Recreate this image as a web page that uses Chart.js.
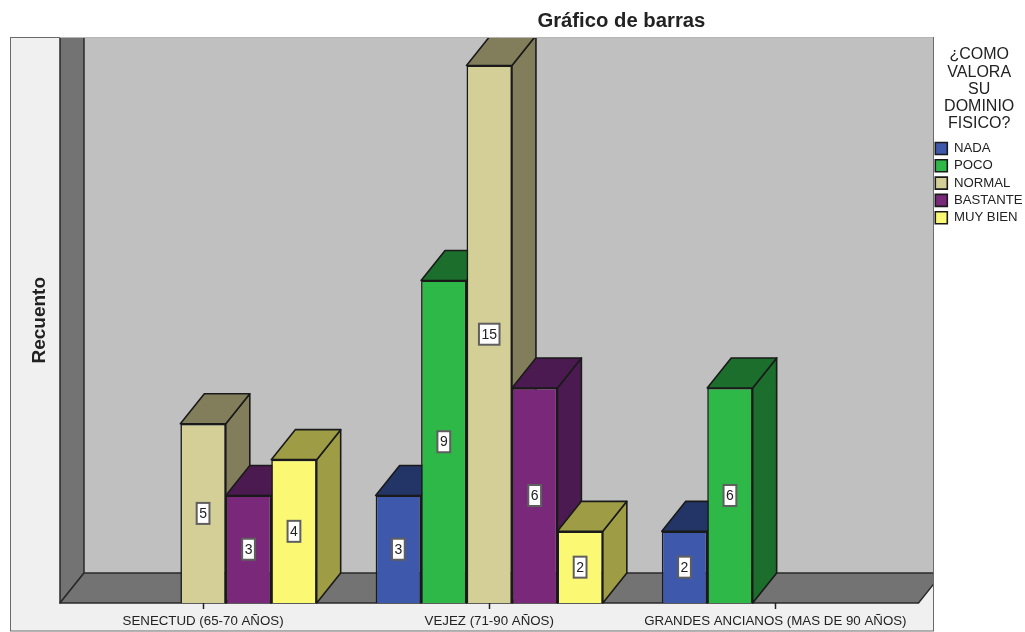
<!DOCTYPE html>
<html><head><meta charset="utf-8">
<style>html,body{margin:0;padding:0;background:#fff}canvas{display:block}</style>
<script src="https://cdn.jsdelivr.net/npm/chart.js@4"></script></head>
<body><canvas id="c" width="1025" height="632"></canvas>
<script>
const categories = ['SENECTUD (65-70 AÑOS)', 'VEJEZ (71-90 AÑOS)', 'GRANDES ANCIANOS (MAS DE 90 AÑOS)'];
const seriesNames = ['NADA', 'POCO', 'NORMAL', 'BASTANTE', 'MUY BIEN'];
const nada = [null, 3, 2];
const poco = [null, 9, 6];
const normal = [5, 15, null];
const bastante = [3, 6, null];
const muyBien = [4, 2, null];
const seriesValues = [nada, poco, normal, bastante, muyBien];
const seriesColors = ['#3E58AC', '#2EB848', '#D4CE97', '#7A297A', '#FBF873'];
const sideColors = ['#233466', '#1B6E2B', '#827E5C', '#4A1A50', '#9E9D45'];
const legendTitle = ['¿COMO', 'VALORA', 'SU', 'DOMINIO', 'FISICO?'];
const FONT = '"Liberation Sans", Arial, sans-serif';
const DX = 24, DY = 30, BOX = {l: 10, r: 933, t: 37, b: 631};
const INK = '#222222';

function poly(ctx, pts, fill, stroke, lw) {
  ctx.beginPath();
  pts.forEach((p, i) => i ? ctx.lineTo(p[0], p[1]) : ctx.moveTo(p[0], p[1]));
  ctx.closePath();
  if (fill) { ctx.fillStyle = fill; ctx.fill(); }
  if (stroke) { ctx.strokeStyle = stroke; ctx.lineWidth = lw; ctx.lineJoin = 'round'; ctx.stroke(); }
}

const scene = {
  id: 'scene',
  afterLayout(chart) {
    const t = chart.titleBlock;
    t.left += 106.5; t.right += 106.5;
    const lg = chart.legend;
    lg.left = 931.2; lg.width = 96; lg.right = lg.left + 96;
    lg.top = 37; lg.bottom = 632; lg.height = 595;
  },
  beforeDraw(chart) {
    const ctx = chart.ctx, a = chart.chartArea;
    ctx.save();
    ctx.fillStyle = '#fff'; ctx.fillRect(0, 0, 1025, 632);
    ctx.fillStyle = '#F0F0F0'; ctx.fillRect(BOX.l, BOX.t, BOX.r - BOX.l, BOX.b - BOX.t);
    ctx.beginPath(); ctx.rect(BOX.l, BOX.t, BOX.r - BOX.l, BOX.b - BOX.t); ctx.clip();
    const B = a.bottom, L = a.left, R = a.right;
    ctx.fillStyle = '#C0C0C0'; ctx.fillRect(L + DX, BOX.t, BOX.r - L - DX, B - DY - BOX.t);
    poly(ctx, [[L, BOX.t], [L + DX, BOX.t], [L + DX, B - DY], [L, B]], '#737373', '#2a2a2a', 1.5);
    poly(ctx, [[L, B], [L + DX, B - DY], [R + DX, B - DY], [R, B]], '#737373', '#2a2a2a', 1.5);
    ctx.restore();
    ctx.save();
    ctx.strokeStyle = '#6a6a6a'; ctx.lineWidth = 1;
    ctx.strokeRect(BOX.l + .5, BOX.t + .5, BOX.r - BOX.l, BOX.b - BOX.t - .5);
    ctx.strokeStyle = '#b5b5b5'; ctx.beginPath(); ctx.moveTo(L, BOX.t + .5); ctx.lineTo(BOX.r, BOX.t + .5); ctx.stroke();
    ctx.restore();
  },
  beforeDatasetsDraw(chart) {
    const ctx = chart.ctx;
    const bars = [];
    chart.data.datasets.forEach((d, i) => chart.getDatasetMeta(i).data.forEach((el, j) => {
      if (d.data[j] !== null) bars.push({el, i});
    }));
    bars.sort((p, q) => p.el.x - q.el.x);
    ctx.save();
    ctx.beginPath(); ctx.rect(BOX.l, BOX.t + 1, BOX.r - BOX.l, BOX.b - BOX.t); ctx.clip();
    bars.forEach(({el, i}) => {
      const l = el.x - el.width / 2, r = el.x + el.width / 2, t = el.y, b = el.base;
      poly(ctx, [[r, t], [r + DX, t - DY], [r + DX, b - DY], [r, b]], sideColors[i], '#1a1a1a', 1.6);
      poly(ctx, [[l, t], [r, t], [r + DX, t - DY], [l + DX, t - DY]], sideColors[i], '#1a1a1a', 1.6);
    });
    ctx.restore();
  },
  afterDatasetsDraw(chart) {
    const ctx = chart.ctx;
    ctx.save();
    ctx.font = '14px ' + FONT;
    ctx.textAlign = 'center'; ctx.textBaseline = 'middle';
    chart.data.datasets.forEach((d, i) => chart.getDatasetMeta(i).data.forEach((el, j) => {
      const v = d.data[j];
      if (v === null) return;
      const cy = (el.y + el.base) / 2, s = String(v);
      const w = ctx.measureText(s).width + 5, h = 21;
      ctx.fillStyle = '#fff'; ctx.fillRect(el.x - w / 2, cy - h / 2, w, h);
      ctx.strokeStyle = '#5f5f5f'; ctx.lineWidth = 2; ctx.strokeRect(el.x - w / 2, cy - h / 2, w, h);
      ctx.fillStyle = INK; ctx.fillText(s, el.x, cy + .5);
    }));
    ctx.restore();
  }
};

new Chart(document.getElementById('c'), {
  type: 'bar',
  data: {
    labels: categories,
    datasets: seriesNames.map((n, i) => ({
      label: n, data: seriesValues[i], backgroundColor: seriesColors[i],
      borderColor: '#1a1a1a', borderWidth: 1.6,
      barPercentage: 1, categoryPercentage: 0.794
    }))
  },
  options: {
    responsive: false, animation: false,
    layout: {padding: {left: 10, right: 5.2, top: 0, bottom: 0}},
    scales: {
      x: {
        grid: {display: true, drawOnChartArea: false, offset: false, tickLength: 6, tickColor: '#222', tickWidth: 1.5},
        border: {display: false},
        ticks: {font: {family: FONT, size: 13.3}, color: INK, autoSkip: false, maxRotation: 0, padding: 4},
        afterFit(s) { s.height = 29; }
      },
      y: {
        min: 0, max: 15.78,
        grid: {display: false}, border: {display: false},
        ticks: {display: false},
        title: {display: true, text: 'Recuento', color: INK, padding: {top: 18.5, bottom: 0},
                font: {family: FONT, size: 19, weight: 'bold', lineHeight: 1.2}},
        afterFit(s) { s.width = 50; }
      }
    },
    plugins: {
      tooltip: {enabled: false},
      title: {display: true, text: 'Gráfico de barras', color: INK,
              font: {family: FONT, size: 20.3, weight: 'bold', lineHeight: 1.2},
              padding: {top: 9, bottom: 4.14}},
      legend: {
        display: true, position: 'right', align: 'start',
        title: {display: true, text: legendTitle, color: INK, position: 'center',
                font: {family: FONT, size: 16, lineHeight: 1.07}, padding: {top: 10, bottom: 73.7}},
        labels: {boxWidth: 12, boxHeight: 12, padding: 4.1, color: INK,
                 font: {family: FONT, size: 13.2, lineHeight: 1.18}}
      }
    }
  },
  plugins: [scene]
});
</script></body></html>
